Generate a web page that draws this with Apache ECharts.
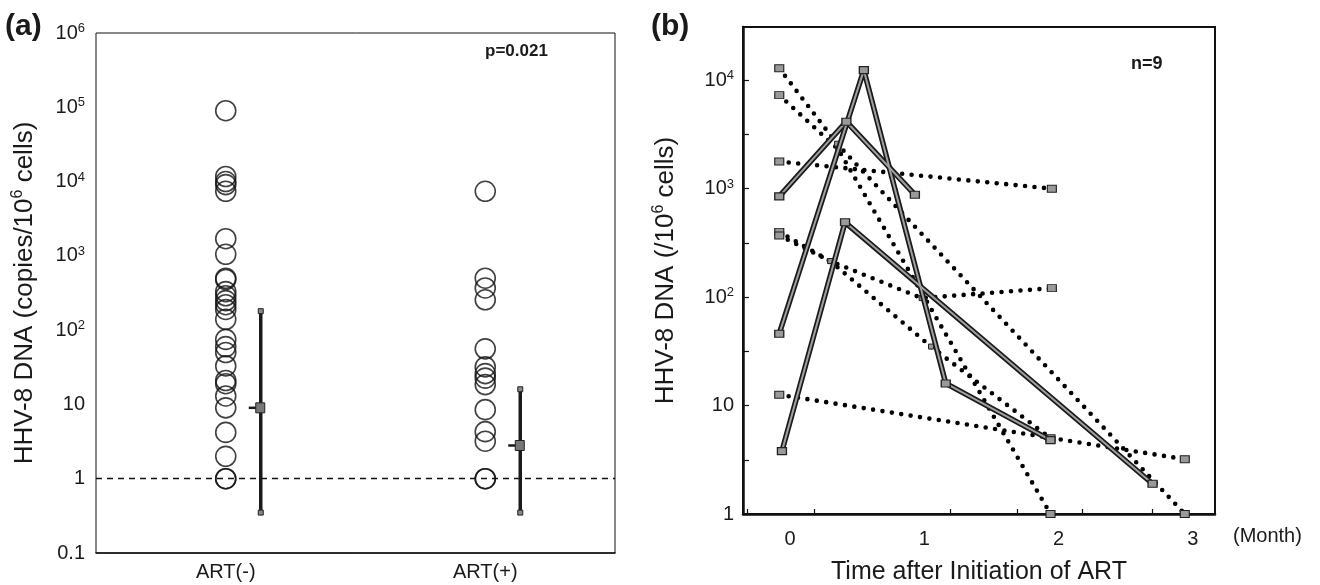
<!DOCTYPE html>
<html><head><meta charset="utf-8">
<script src="https://cdn.jsdelivr.net/npm/echarts@6/dist/echarts.min.js"></script>
<style>html,body{margin:0;padding:0;background:#fff}#c{width:1320px;height:585px}</style>
</head><body><div id="c"></div>
<script>
// ---------- Panel (a) data ----------
const categoriesA = ['ART(-)', 'ART(+)'];
const artNeg = [90000, 11700, 10000, 9100, 7400, 1700, 1050, 500, 480, 330, 290, 250, 220, 190, 140, 75, 60, 50, 33, 21, 19, 13, 9, 4.2, 2, 1, 1];
const artPos = [7400, 500, 370, 256, 56, 32, 26, 22.6, 18.5, 8.5, 4.3, 3.2, 1, 1];
const summaryNeg = [0.35, 9, 180];   // low, mean, high
const summaryPos = [0.35, 2.8, 16];
const yTicksA = [0.1, 1, 10, 100, 1000, 10000, 100000, 1000000];
const yMinorA = [0.316, 3.16, 31.6, 316, 3162, 31623, 316228];
const cutoffA = 1;
const pValue = 'p=0.021';

// ---------- Panel (b) data: [month, copies] ----------
const solid1 = [[-0.08, 850], [0.42, 4150], [0.93, 880]];
const solid2 = [[-0.08, 46], [0.55, 12400], [1.16, 16], [1.94, 4.8]];
const solid3 = [[-0.06, 3.8], [0.41, 490], [2.70, 1.9]];
const dotted1 = [[-0.08, 12900], [0.35, 2600], [2.94, 1]];
const dotted2 = [[-0.08, 7300], [0.36, 2300], [1.94, 1]];
const dotted3 = [[-0.08, 1780], [1.95, 1000]];
const dotted4 = [[-0.08, 400], [0.30, 215], [0.98, 98], [1.95, 121]];
const dotted5 = [[-0.08, 370], [0.30, 215], [1.05, 35], [1.94, 5]];
const dotted6 = [[-0.08, 12.6], [2.94, 3.2]];
const yTicksB = [1, 10, 100, 1000, 10000];
const yMinorB = [1, 3.16, 10, 31.6, 100, 316, 1000, 3162, 10000];
const xLabelsB = [0, 1, 2, 3];
const xTicksB = [-0.32, 0.18, 1.19, 1.69, 2.18, 2.70];
const nLabel = 'n=9';

const FONT = '"Liberation Sans", Arial, Helvetica, sans-serif';
const TXT = '#1a1a1a';

function powLabel(v) {
  const e = Math.round(Math.log10(v));
  if (e === 0) return '1';
  if (e === 1) return '10';
  if (e === -1) return '0.1';
  return '10{sup|' + e + '}';
}
const tickRich = {sup: {fontSize: 13, verticalAlign: 'top', lineHeight: 13, fontFamily: FONT, color: TXT}};

const chart = echarts.init(document.getElementById('c'), null, {renderer: 'canvas'});

const solidUnder = (d) => ({
  type: 'line', xAxisIndex: 1, yAxisIndex: 2, data: d, symbol: 'none', z: 3,
  lineStyle: {color: '#1a1a1a', width: 5.5}, silent: true
});
const solidOver = (d) => ({
  type: 'line', xAxisIndex: 1, yAxisIndex: 2, data: d, z: 4,
  symbol: 'rect', symbolSize: [9, 7], showAllSymbol: true,
  itemStyle: {color: '#9a9a9a', borderColor: '#222', borderWidth: 1.2},
  lineStyle: {color: '#a0a0a0', width: 2}, silent: true
});
const dottedLine = (d) => ({
  type: 'line', xAxisIndex: 1, yAxisIndex: 2, data: d, z: 2,
  symbol: 'rect', showAllSymbol: true,
  symbolSize: (v, p) => (p.dataIndex === 0 || p.dataIndex === d.length - 1) ? [9, 7] : [5, 5],
  itemStyle: {color: '#999', borderColor: '#222', borderWidth: 1},
  lineStyle: {color: '#000', width: 4.6, type: [0, 9.5], cap: 'round'}, silent: true
});

const option = {
  animation: false,
  backgroundColor: '#fff',
  textStyle: {fontFamily: FONT, color: TXT},
  grid: [
    {left: 96, top: 33, width: 519, height: 520, show: true, borderColor: '#111', borderWidth: 1, backgroundColor: 'transparent', outerBoundsMode: 'none', containLabel: false},
    {left: 743, top: 27, width: 472, height: 487, show: true, borderColor: '#111', borderWidth: 2, backgroundColor: 'transparent', outerBoundsMode: 'none', containLabel: false}
  ],
  xAxis: [
    {
      gridIndex: 0, type: 'category', data: categoriesA, boundaryGap: true,
      axisLine: {lineStyle: {color: '#111', width: 1.5}},
      axisTick: {alignWithLabel: true, length: 5, lineStyle: {color: '#111', width: 1.2}},
      axisLabel: {fontSize: 20, color: TXT, margin: 9, fontFamily: FONT},
      splitLine: {show: false}
    },
    {
      gridIndex: 1, type: 'value', min: -0.35, max: 3.165,
      axisLine: {onZero: false, lineStyle: {color: '#111', width: 2.5}},
      axisTick: {inside: true, length: 5, customValues: xTicksB, lineStyle: {color: '#111', width: 1.2}},
      axisLabel: {fontSize: 20, color: TXT, margin: 15, customValues: xLabelsB, fontFamily: FONT},
      splitLine: {show: false},
      name: 'Time after Initiation of ART', nameLocation: 'middle', nameGap: 46,
      nameTextStyle: {fontSize: 25, color: TXT, fontFamily: FONT}
    }
  ],
  yAxis: [
    {
      gridIndex: 0, type: 'log', min: 0.1, max: 1000000, position: 'left',
      axisLine: {lineStyle: {color: '#111', width: 1.8}},
      axisTick: {length: 7, customValues: yTicksA, lineStyle: {color: '#111', width: 1.2}},
      axisLabel: {fontSize: 20, color: TXT, margin: 11, customValues: yTicksA, formatter: powLabel, rich: tickRich, lineHeight: 22, fontFamily: FONT},
      splitLine: {show: false},
      name: 'HHV-8 DNA (copies/10{sup|6} cells)', nameLocation: 'middle', nameGap: 56,
      nameTextStyle: {fontSize: 26, color: TXT, fontFamily: FONT, lineHeight: 30,
        rich: {sup: {fontSize: 16, verticalAlign: 'top', lineHeight: 16, fontFamily: FONT, color: TXT}}}
    },
    {
      gridIndex: 0, type: 'log', min: 0.1, max: 1000000, position: 'left',
      axisLine: {show: false},
      axisTick: {length: 4, customValues: yMinorA, lineStyle: {color: '#111', width: 1.2}},
      axisLabel: {show: false},
      splitLine: {show: false}
    },
    {
      gridIndex: 1, type: 'log', min: 1, max: 31000, position: 'left',
      axisLine: {onZero: false, lineStyle: {color: '#111', width: 2.5}},
      axisTick: {inside: true, length: 6, customValues: yMinorB, lineStyle: {color: '#111', width: 1.2}},
      axisLabel: {fontSize: 20, color: TXT, margin: 9, customValues: yTicksB, formatter: powLabel, rich: tickRich, lineHeight: 22, fontFamily: FONT},
      splitLine: {show: false},
      name: 'HHV-8 DNA (/10{sup|6} cells)', nameLocation: 'middle', nameGap: 62,
      nameTextStyle: {fontSize: 26, color: TXT, fontFamily: FONT, lineHeight: 30,
        rich: {sup: {fontSize: 16, verticalAlign: 'top', lineHeight: 16, fontFamily: FONT, color: TXT}}}
    }
  ],
  graphic: [
    {type: 'text', left: 5, top: 12, style: {text: '(a)', font: 'bold 30px ' + FONT, fill: TXT}},
    {type: 'text', left: 651, top: 12, style: {text: '(b)', font: 'bold 30px ' + FONT, fill: TXT}},
    {type: 'text', left: 485, top: 43, style: {text: pValue, font: 'bold 17px ' + FONT, fill: TXT}},
    {type: 'text', left: 1131, top: 55, style: {text: nLabel, font: 'bold 18px ' + FONT, fill: TXT}},
    {type: 'text', left: 1233, top: 526, style: {text: '(Month)', font: '20px ' + FONT, fill: TXT}}
  ],
  series: [
    {
      type: 'scatter', xAxisIndex: 0, yAxisIndex: 0,
      data: artNeg.map(v => [categoriesA[0], v]).concat(artPos.map(v => [categoriesA[1], v])),
      symbol: 'circle', symbolSize: 20,
      itemStyle: {color: 'rgba(0,0,0,0)', borderColor: '#111', borderWidth: 1.6},
      markLine: {
        silent: true, symbol: 'none', label: {show: false},
        lineStyle: {color: '#111', type: [6, 5], width: 1.3},
        data: [{yAxis: cutoffA}]
      }
    },
    {
      type: 'custom', xAxisIndex: 0, yAxisIndex: 0,
      data: [[0].concat(summaryNeg), [1].concat(summaryPos)],
      encode: {x: 0, y: [1, 2, 3]},
      renderItem: function (params, api) {
        const lo = api.coord([api.value(0), api.value(1)]);
        const me = api.coord([api.value(0), api.value(2)]);
        const hi = api.coord([api.value(0), api.value(3)]);
        const x = lo[0] + 35;
        return {type: 'group', children: [
          {type: 'line', shape: {x1: x, y1: hi[1], x2: x, y2: lo[1]}, style: {stroke: '#1a1a1a', lineWidth: 3.5}},
          {type: 'rect', shape: {x: x - 2.5, y: hi[1] - 2.5, width: 5, height: 5}, style: {fill: '#888', stroke: '#222', lineWidth: 1}},
          {type: 'rect', shape: {x: x - 2.5, y: lo[1] - 2.5, width: 5, height: 5}, style: {fill: '#888', stroke: '#222', lineWidth: 1}},
          {type: 'line', shape: {x1: x - 12, y1: me[1], x2: x - 4, y2: me[1]}, style: {stroke: '#1a1a1a', lineWidth: 2.5}},
          {type: 'rect', shape: {x: x - 5, y: me[1] - 5, width: 9, height: 10}, style: {fill: '#777', stroke: '#222', lineWidth: 1}}
        ]};
      }
    },
    dottedLine(dotted1), dottedLine(dotted2), dottedLine(dotted3),
    dottedLine(dotted4), dottedLine(dotted5), dottedLine(dotted6),
    solidUnder(solid1), solidUnder(solid2), solidUnder(solid3),
    solidOver(solid1), solidOver(solid2), solidOver(solid3)
  ]
};
chart.setOption(option);
</script>
</body></html>
